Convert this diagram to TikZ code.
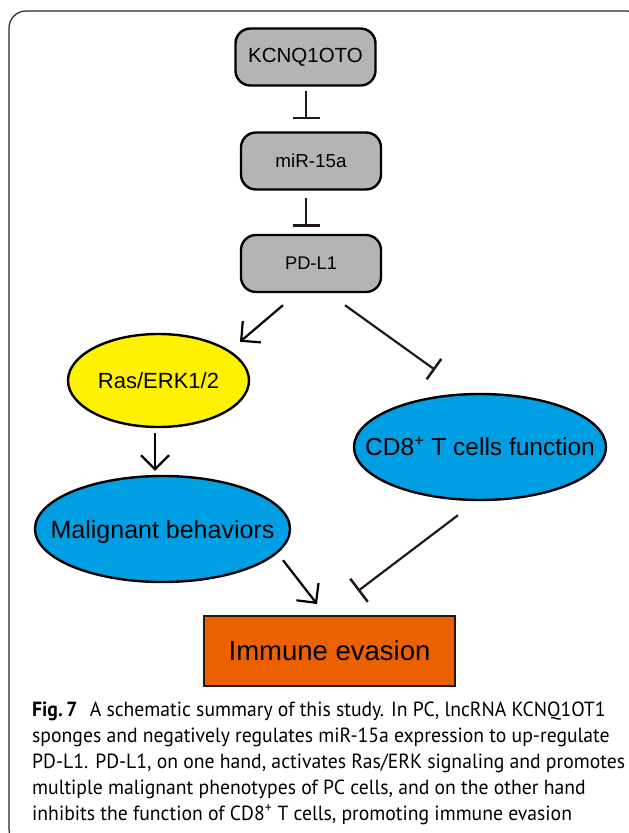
\documentclass[tikz,border=0pt]{standalone}
\usepackage{fontspec}
\setmainfont{Liberation Sans}
\newfontfamily\capfont{PT Sans}[FakeStretch=0.96]
\usetikzlibrary{arrows.meta,shapes.geometric,calc}
\definecolor{boxgray}{RGB}{180,180,180}
\definecolor{rasyellow}{RGB}{255,242,0}
\definecolor{cellblue}{RGB}{0,158,227}
\definecolor{evorange}{RGB}{235,97,0}
\definecolor{inhcol}{RGB}{35,24,21}
\definecolor{framecol}{RGB}{40,40,40}
\newcommand{\ctext}[1]{\makebox[0pt]{\smash{\raisebox{-0.36em}{#1}}}}
\tikzset{
  gbox/.style={draw=black, line width=2.4pt, fill=boxgray, rounded corners=15pt,
    minimum width=140pt, minimum height=57pt, inner sep=0pt},
  oval/.style={ellipse, draw=black, line width=2.4pt, inner sep=0pt},
  act/.style={line width=2.2pt, draw=black,
    -{Straight Barb[length=14pt,width=28pt,line width=2.2pt]}},
  inh/.style={line width=2.2pt, draw=inhcol, -{Bar[width=27pt,line width=2.5pt]}},
  capline/.style={anchor=base west, inner sep=0pt, font=\capfont\fontsize{20.5}{24}\selectfont},
}
\begin{document}
\begin{tikzpicture}[x=1pt,y=-1pt]
\useasboundingbox (0,0) rectangle (629,833);
\clip (0,0) rectangle (629,833);
\fill[white] (0,0) rectangle (629,833);
\draw[framecol, line width=1.2pt, rounded corners=17pt] (9,11) rectangle (643,846);

\node[gbox, font=\fontsize{20.5}{24}\selectfont] (k) at (305.5,57) {KCNQ1OTO};
\node[gbox, font=\fontsize{18.8}{22}\selectfont] (m) at (311,161) {miR-15a};
\node[gbox, font=\fontsize{18.3}{22}\selectfont] (p) at (311,263.5) {PD-L1};
\node[oval, fill=rasyellow, minimum width=181pt, minimum height=93pt,
  font=\fontsize{22}{26}\selectfont] (r) at (158.5,380.5) {\ctext{Ras/ERK1/2}};
\node[oval, fill=cellblue, minimum width=252pt, minimum height=106pt,
  font=\fontsize{24.5}{30}\selectfont] (c) at (480,447) {\ctext{CD8\textsuperscript{+} T cells function}};
\node[oval, fill=cellblue, minimum width=255pt, minimum height=106pt,
  font=\fontsize{25}{30}\selectfont] (b) at (162.5,529) {\ctext{Malignant behaviors}};
\node[draw=inhcol, line width=2pt, fill=evorange, minimum width=251pt, minimum height=70pt,
  inner sep=0pt, font=\fontsize{27.5}{32}\selectfont] (i) at (329.5,651) {Immune evasion};

\draw[inh] ($(k.south)+(0.5,4)$) -- ($(m.north)+(-5,-12)$);
\draw[inh] ($(m.south)+(-5,7)$) -- ($(p.north)+(-5,-7)$);
\draw[act] ($(p.south)+(-28,12)$) -- ($(r.north)+(81.5,9)$);
\draw[inh, -{Bar[width=25pt,line width=2.5pt]}] ($(p.south)+(34,12)$) -- ($(c.north)+(-45,-23)$);
\draw[act] ($(r.south)+(-3.5,5)$) -- ($(b.north)+(-7.5,-4)$);
\draw[act] ($(b.south)+(120.5,-23)$) -- ($(i.north)+(-12.5,-11)$);
\draw[inh, -{Bar[width=29pt,line width=2.5pt]}] ($(c.south)+(-22,14)$) -- ($(i.north)+(28.5,-24)$);

\node[capline] (cap1) at (32,716) {\textbf{Fig.\,7}\hspace{0.6em}A schematic summary of this study. In PC, lncRNA KCNQ1OT1};
\node[capline] (cap2) at (32,742) {sponges and negatively regulates miR-15a expression to up-regulate};
\node[capline] (cap3) at (32,768) {PD-L1. PD-L1, on one hand, activates Ras/ERK signaling and promotes};
\node[capline] (cap4) at (32,794) {multiple malignant phenotypes of PC cells, and on the other hand};
\node[capline] (cap5) at (32,820) {inhibits the function of CD8\textsuperscript{+} T cells, promoting immune evasion};
\end{tikzpicture}
\end{document}
